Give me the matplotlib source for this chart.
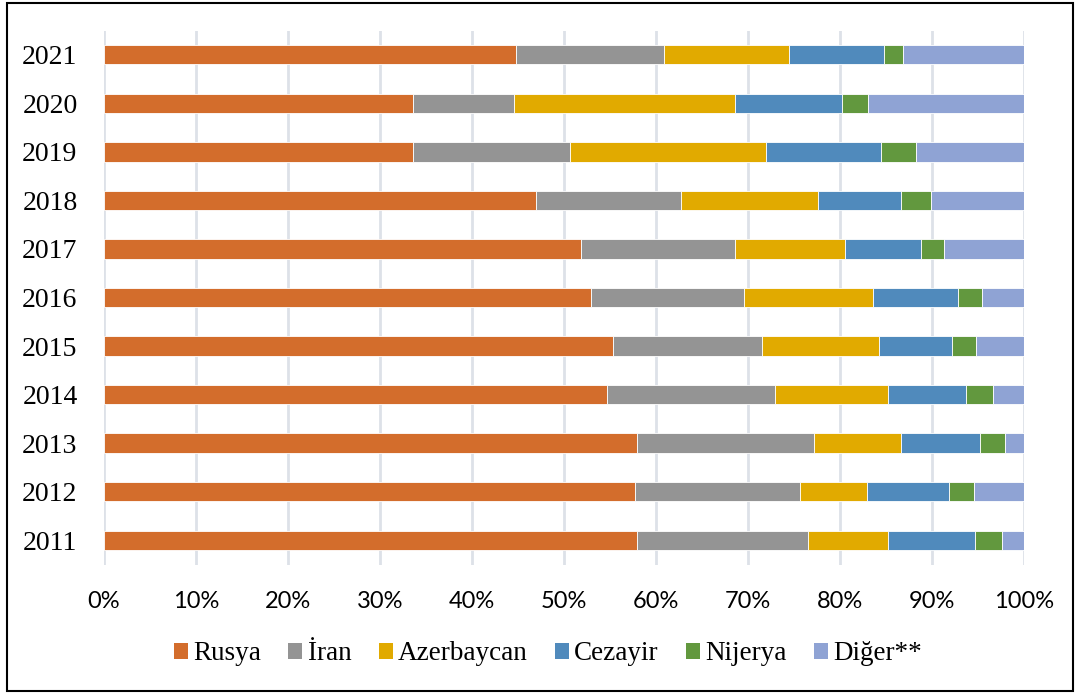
import matplotlib
matplotlib.use("Agg")
import matplotlib.pyplot as plt
from matplotlib.patches import Rectangle
import numpy as np

years = ["2011", "2012", "2013", "2014", "2015", "2016", "2017", "2018", "2019", "2020", "2021"]
series_names = ["Rusya", "İran", "Azerbaycan", "Cezayir", "Nijerya", "Diğer**"]

rusya      = [57.9, 57.7, 57.9, 54.7, 55.3, 52.9, 51.9, 47.0, 33.6, 33.6, 44.8]
iran       = [18.6, 17.9, 19.3, 18.2, 16.2, 16.7, 16.7, 15.7, 17.1, 11.0, 16.1]
azerbaycan = [8.7, 7.3, 9.4, 12.3, 12.7, 14.0, 11.9, 14.9, 21.3, 24.0, 13.6]
cezayir    = [9.5, 8.9, 8.6, 8.5, 8.0, 9.2, 8.35, 9.0, 12.5, 11.6, 10.25]
nijerya    = [2.9, 2.8, 2.75, 2.9, 2.6, 2.6, 2.45, 3.3, 3.8, 2.8, 2.15]
diger      = [2.4, 5.4, 2.05, 3.4, 5.2, 4.6, 8.7, 10.1, 11.7, 17.0, 13.1]

colors = ["#D36D2C", "#949494", "#E1AA00", "#508ABC", "#62983E", "#8FA3D4"]

data = np.array([rusya, iran, azerbaycan, cezayir, nijerya, diger], dtype=float)
shares = data / data.sum(axis=0) * 100.0

W, H = 1078, 693
fig = plt.figure(figsize=(W / 100, H / 100), dpi=100)
ax = fig.add_axes([104 / W, 1 - 564.5 / H, (1024 - 104) / W, (564.5 - 30.5) / H])

y = np.arange(len(years))
left = np.zeros(len(years))
handles = []
for name, vals, c in zip(series_names, shares, colors):
    b = ax.barh(y, vals, left=left, height=0.40, color=c, edgecolor="white",
                linewidth=0.6, label=name, zorder=3)
    handles.append(b)
    left += vals

ax.set_xlim(0, 100)
ax.set_ylim(-0.5, len(years) - 0.5)
ax.set_xticks(np.arange(0, 101, 10))
ax.set_xticklabels([f"{v}%" for v in range(0, 101, 10)], family="Lato", fontsize=17)
ax.set_yticks(y)
ax.set_yticklabels(years, family="Liberation Serif", fontsize=20)
ax.tick_params(axis="x", length=0, pad=19)
ax.tick_params(axis="y", length=0, pad=19)
ax.grid(axis="x", color="#DDE1E8", linewidth=2, zorder=0)
for s in ax.spines.values():
    s.set_visible(False)

leg = fig.legend(handles=handles, labels=series_names, loc="center",
                 bbox_to_anchor=(548 / W, 1 - 654 / H), ncol=6, frameon=False,
                 prop={"family": "Liberation Serif", "size": 19.5},
                 handlelength=0.52, handleheight=0.52, handletextpad=0.2,
                 columnspacing=1.0)
for h in leg.legend_handles:
    h.set_edgecolor("none")

fig.patches.append(Rectangle((7 / W, 1 - 691 / H), (1073 - 7) / W, (691 - 2.5) / H,
                             transform=fig.transFigure, fill=False,
                             edgecolor="black", linewidth=1.5))

fig.savefig("out.png", dpi=100)
